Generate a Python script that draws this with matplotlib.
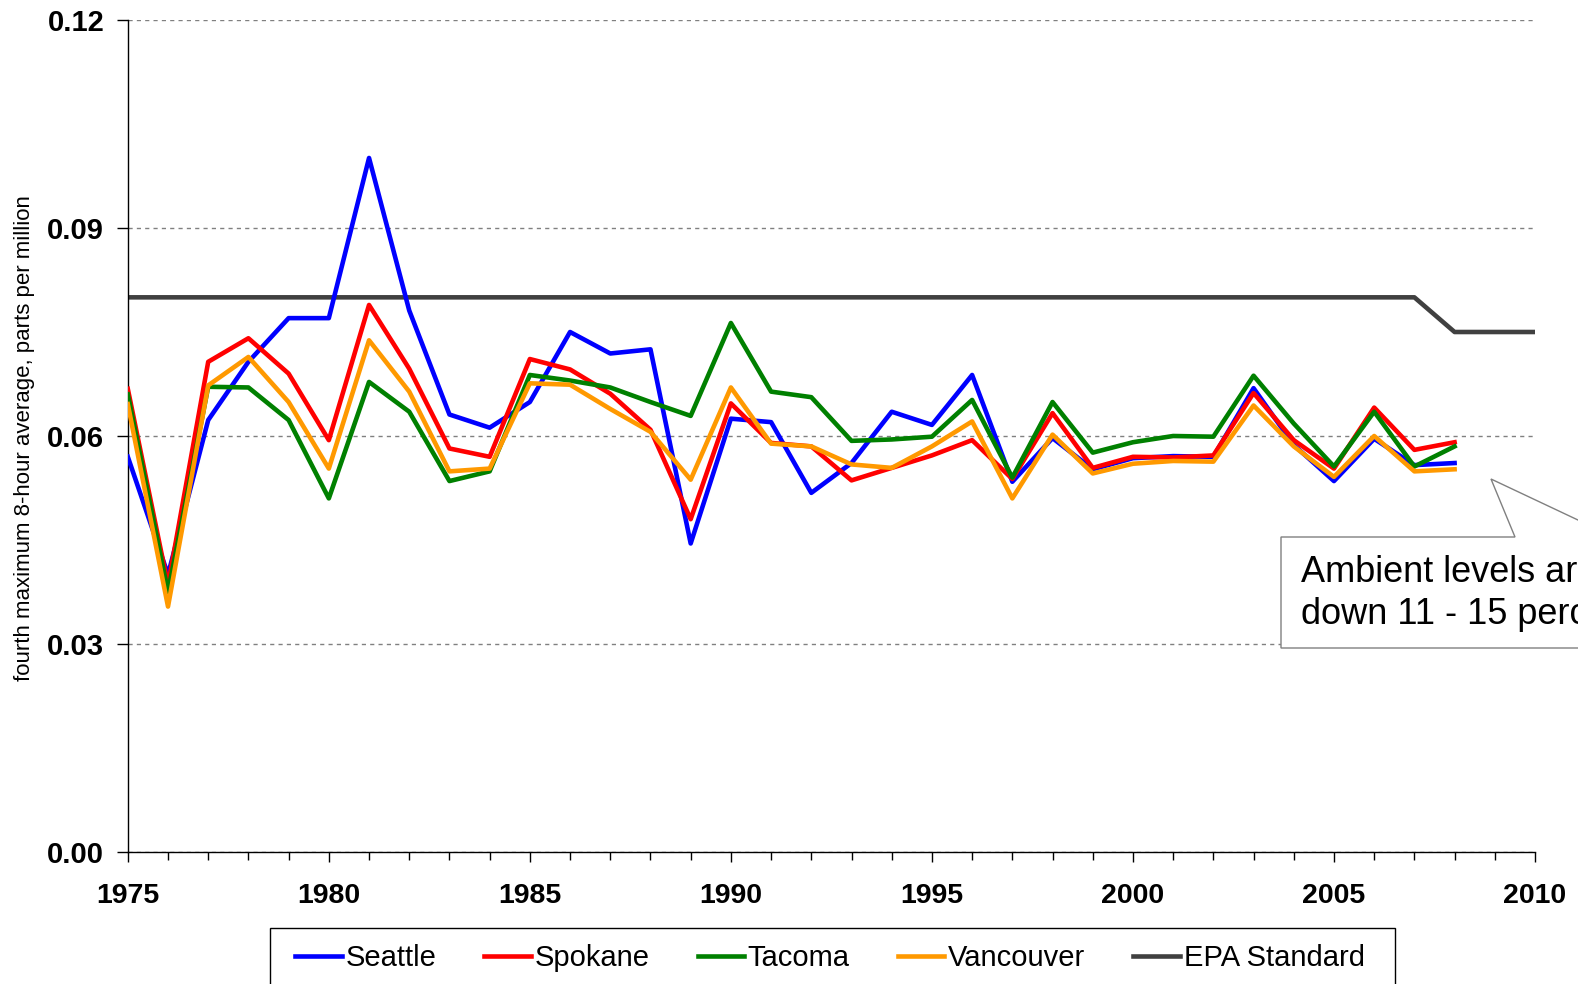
import numpy as np
import matplotlib
matplotlib.use("Agg")
import matplotlib.pyplot as plt
from matplotlib.patches import Polygon, Rectangle
from matplotlib.ticker import MultipleLocator

# ── Data ──────────────────────────────────────────────────────────────────────

years = list(range(1975, 2009))

seattle = [0.0570, 0.0400, 0.0623, 0.0707, 0.0770, 0.0770, 0.1001, 0.0781, 0.0631, 0.0612,
           0.0649, 0.0750, 0.0719, 0.0725, 0.0445, 0.0625, 0.0620, 0.0518, 0.0561, 0.0635,
           0.0616, 0.0688, 0.0534, 0.0597, 0.0552, 0.0568, 0.0571, 0.0570, 0.0669, 0.0587,
           0.0535, 0.0596, 0.0558, 0.0561]
spokane = [0.0668, 0.0385, 0.0707, 0.0741, 0.0690, 0.0594, 0.0789, 0.0697, 0.0582, 0.0570,
           0.0711, 0.0696, 0.0661, 0.0609, 0.0480, 0.0647, 0.0590, 0.0585, 0.0536, 0.0554,
           0.0572, 0.0594, 0.0538, 0.0633, 0.0554, 0.0570, 0.0569, 0.0572, 0.0662, 0.0594,
           0.0553, 0.0641, 0.0580, 0.0591]
tacoma = [0.0660, 0.0375, 0.0671, 0.0670, 0.0623, 0.0510, 0.0678, 0.0635, 0.0535, 0.0549,
          0.0688, 0.0680, 0.0670, 0.0649, 0.0629, 0.0763, 0.0664, 0.0656, 0.0593, 0.0595,
          0.0599, 0.0652, 0.0540, 0.0649, 0.0576, 0.0591, 0.0600, 0.0599, 0.0687, 0.0618,
          0.0556, 0.0635, 0.0556, 0.0585]
vancouver = [0.0646, 0.0354, 0.0673, 0.0714, 0.0649, 0.0553, 0.0738, 0.0664, 0.0549, 0.0553,
             0.0676, 0.0674, 0.0639, 0.0606, 0.0537, 0.0670, 0.0589, 0.0585, 0.0559, 0.0554,
             0.0585, 0.0621, 0.0510, 0.0602, 0.0546, 0.0560, 0.0564, 0.0563, 0.0644, 0.0585,
             0.0541, 0.0600, 0.0549, 0.0552]

epa_years = [1975, 2007, 2008, 2010]
epa_std   = [0.080, 0.080, 0.075, 0.075]

SERIES = [
    ("Seattle",   seattle,   "#0000FF"),
    ("Spokane",   spokane,   "#FF0000"),
    ("Tacoma",    tacoma,    "#008000"),
    ("Vancouver", vancouver, "#FF9900"),
]

plt.rcParams["font.family"] = ["Liberation Sans", "DejaVu Sans"]

W, H = 1578, 984
fig = plt.figure(figsize=(W / 100, H / 100), dpi=100)
ax = fig.add_axes([127.8 / W, 1 - 852 / H, (1535 - 127.8) / W, (852 - 20) / H])


def fig_xy(px, py):
    return px / W, 1 - py / H


# ── Lines ─────────────────────────────────────────────────────────────────────

handles = []
epa_line, = ax.plot(epa_years, epa_std, color="#404040", linewidth=3.3, label="EPA Standard", zorder=2)
for name, vals, color in SERIES:
    ln, = ax.plot(years, vals, color=color, linewidth=3.3, label=name, zorder=3)
    handles.append(ln)
handles.append(epa_line)

# ── Axes styling ──────────────────────────────────────────────────────────────

ax.set_xlim(1975, 2010)
ax.set_ylim(0, 0.12)
ax.xaxis.set_major_locator(MultipleLocator(5))
ax.xaxis.set_minor_locator(MultipleLocator(1))
ax.yaxis.set_major_locator(MultipleLocator(0.03))
ax.yaxis.set_major_formatter(plt.FuncFormatter(lambda v, _: f"{v:.2f}"))

for s in ["top", "right"]:
    ax.spines[s].set_visible(False)
for s in ["left", "bottom"]:
    ax.spines[s].set_color("black")
    ax.spines[s].set_linewidth(1)

ax.tick_params(axis="x", which="major", direction="out", length=7, width=1, pad=15,
               labelsize=20.5)
ax.tick_params(axis="x", which="minor", direction="out", length=6, width=1)
ax.tick_params(axis="y", which="major", direction="out", length=8, width=1, pad=9,
               labelsize=21)
for lbl in ax.get_xticklabels() + ax.get_yticklabels():
    lbl.set_fontweight("bold")

ax.grid(axis="y", color="#808080", linestyle=(0, (3, 3)), linewidth=1)
ax.set_axisbelow(True)

fig.text(25 / W, 1 - 438 / H, "fourth maximum 8-hour average, parts per million",
         rotation=90, ha="center", va="center", fontsize=16)

# ── Legend (box drawn separately so its padding matches) ─────────────────────

leg = fig.legend(handles=handles, labels=[h.get_label() for h in handles],
                 loc="upper left", bbox_to_anchor=fig_xy(279, 928), borderaxespad=0,
                 ncol=5, fontsize=21, handlelength=1.6, handletextpad=0.12,
                 columnspacing=1.65, borderpad=0.55, frameon=False)
(bx0, by0), (bx1, by1) = fig_xy(270, 1000), fig_xy(1395, 928)
fig.patches.append(Rectangle((bx0, by0), bx1 - bx0, by1 - by0, transform=fig.transFigure,
                             facecolor="white", edgecolor="black", linewidth=1, zorder=0))

# ── Callout ───────────────────────────────────────────────────────────────────

pts = [(1281, 537), (1515, 537), (1491, 479), (1614, 537), (1800, 537), (1800, 648), (1281, 648)]
callout = Polygon([fig_xy(x, y) for x, y in pts], closed=True, transform=fig.transFigure,
                  facecolor="white", edgecolor="#808080", linewidth=1, zorder=5)
fig.patches.append(callout)
fig.text(*fig_xy(1301, 572), "Ambient levels are", fontsize=26, ha="left", va="center", zorder=6)
fig.text(*fig_xy(1301, 615), "down 11 - 15 percent", fontsize=26, ha="left", va="center", zorder=6)

fig.savefig("out.png", dpi=100)
